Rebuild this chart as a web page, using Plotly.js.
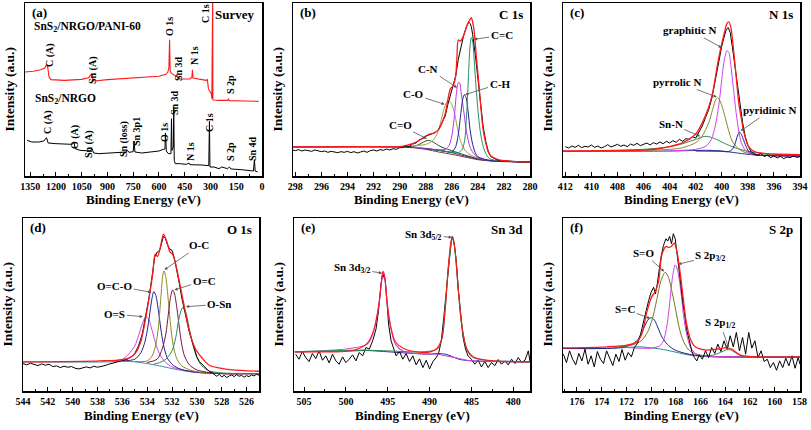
<!DOCTYPE html>
<html><head><meta charset="utf-8">
<script src="https://cdn.plot.ly/plotly-3.0.1.min.js"></script>
<style>html,body{margin:0;padding:0;background:#fff}#chart{width:811px;height:430px}</style>
</head><body><div id="chart"></div>
<script>
// ---------- (a) Survey ----------
const aRedE = [1380,1330,1290,1265,1255,1248,1240,1230,1150,1050,1010,995,990,985,975,900,800,700,600,560,548,542,538,535,530,510,500,497,493,480,420,408,405,402,380,330,325,318,312,305,295,292,290,287,286,282,250,200,195,190,100,20];
const aRedI = [312,314,319,324,334,327,297,289,287,290,295,302,307,287,285,289,292,295,299,305,312,327,409,317,309,302,300,305,297,291,291,297,319,294,292,289,287,289,262,255,247,232,560,560,229,228,227,227,231,226,225,224];
const aBlkE = [1368,1340,1300,1270,1255,1245,1200,1130,1105,1095,1088,1060,1000,990,980,950,900,850,790,783,775,750,745,740,700,650,600,575,565,562,557,545,530,527,524,516,514,511,505,480,440,425,420,350,320,310,306,303,280,250,235,200,190,180,120,80,50,44,40,25];
const aBlkI = [107,102,102,105,115,99,97,95,95,102,82,77,75,82,69,67,69,70,72,77,71,73,105,72,69,72,75,80,81,129,75,67,67,172,77,87,207,47,37,37,35,39,34,33,32,31,164,27,27,22,27,22,27,21,19,17,15,49,15,12];

// ---------- (b) C 1s ----------
const bBgE = [298.2,290,289,288,287,286,285,284,283,282,280];
const bBgI = [87,87,86,82,77,70,60,51,46,44,42];
const bBg2I = [87,87,85,80,72,65,57,49,45,43,42];
const bCOdE = [290,289,288.6,288.3,288,287.8,287.6,287.3,287,286.6,286,285,284,283,280];
const bCOdI = [88,89,93,99,105,107,105,99,91,84,76,63,52,46,42];
const bCOsE = [289,288,287.5,287.2,287,286.8,286.6,286.4,286.2,286,285.8,285.6,285.4,285.2,285,284.6,284,283,281,280];
const bCOsI = [90,95,105,120,140,170,200,220,224,215,190,150,115,92,78,64,54,47,43,42];
const bCNE = [289,288,287,286.5,286.2,286,285.8,285.65,285.5,285.4,285.3,285.1,284.9,284.7,284.5,284.2,284,283.5,283,282,280];
const bCNI = [87,83,79,80,92,120,180,245,280,280,255,200,140,100,78,62,56,50,46,44,42];
const bCHE = [288,287,286.5,286,285.7,285.5,285.3,285.15,285.03,284.9,284.75,284.6,284.4,284.2,284,283.5,283,280];
const bCHI = [82,77,74,72,88,125,190,232,244,235,195,140,95,70,58,50,46,42];
const bCCE = [288,287,286,285.5,285.2,285,284.9,284.8,284.7,284.6,284.5,284.4,284.3,284.2,284,283.8,283.6,283.4,283.2,283,282,280];
const bCCI = [82,77,71,70,80,110,160,230,320,390,415,405,360,300,200,130,90,68,56,50,45,42];
const bFitE = [298.2,292,290,289.5,289,288.5,288,287.7,287.4,287,286.7,286.5,286.3,286.1,285.9,285.7,285.6,285.5,285.35,285.2,285,284.8,284.6,284.5,284.4,284.3,284.2,284.1,284,283.8,283.6,283.4,283.2,283,282.5,282,281,280];
const bFitI = [87,88,88,92,97,107,120,126,128,140,165,187,230,262,270,300,360,408,405,412,432,455,470,475,462,440,400,350,310,220,140,100,72,60,50,46,43,42];
const bRawE = [298.2,298,297.75,297.5,297.25,297,296.75,296.5,296.25,296,295.75,295.5,295.25,295,294.75,294.5,294.25,294,293.75,293.5,293.25,293,292.75,292.5,292.25,292,291.75,291.5,291.25,291,290.75,290.5,290.25,290,289.75,289.5,289.25,289,288.75,288.5,288.25,288,287.75,287.5,287.25,287,286.75,286.5,286.3,286.1,285.9,285.7,285.5,285.3,285.1,284.9,284.8,284.7,284.6,284.5,284.4,284.3,284.2,284.1,284,283.9,283.8,283.6,283.4,283.2,283,282.75,282.5,282.25,282,281.5,281,280.5,280];
const bRawI = [78,76,79,75,78,77,74,78,76,73,75,71,74,72,70,73,71,74,70,73,69,72,75,71,76,78,75,79,77,81,78,82,80,85,86,90,89,96,99,108,112,119,124,127,131,140,160,180,215,245,268,300,350,390,420,445,455,462,458,448,425,400,365,330,290,250,212,150,105,74,58,52,48,46,45,44,43,42,42];

// ---------- (c) N 1s ----------
const cBgE = [412.2,404,401,400,399,398,397,394];
const cBgI = [74,75,77,75,70,65,62,60];
const cSnNE = [410,406,404,403,402,401.5,401.2,400.8,400.3,399.8,399,398,397,396,394];
const cSnNI = [76,80,88,97,110,117,119,116,108,98,85,74,68,63,61];
const cPyrE = [406,404,403,402,401.5,401,400.7,400.45,400.3,400.1,399.8,399.5,399.2,398.8,398.3,397.5,396,394];
const cPyrI = [77,80,85,100,120,160,200,230,235,222,185,140,105,85,72,65,61,60];
const cGraE = [404,402,401.2,400.8,400.5,400.2,400,399.8,399.6,399.45,399.3,399.1,398.9,398.7,398.5,398.2,397.8,397,394];
const cGraI = [76,80,90,110,150,220,290,350,376,370,330,260,190,135,100,78,66,62,60];
const cPydE = [402,400,399.5,399.2,399,398.8,398.65,398.5,398.3,398.1,397.9,397.5,396,394];
const cPydI = [75,74,73,80,95,120,132,125,105,85,72,64,61,60];
const cFitE = [412.2,408,406,405,404,403,402,401.5,401,400.7,400.35,400.1,399.8,399.6,399.45,399.3,399.1,398.9,398.7,398.5,398.3,398,397.7,397.4,397,396,394];
const cFitI = [75,76,78,81,88,100,126,160,207,250,330,380,430,458,462,445,380,300,220,172,130,92,78,72,69,66,64];
const cRawE = [412,411.75,411.5,411.25,411,410.75,410.5,410.25,410,409.75,409.5,409.25,409,408.75,408.5,408.25,408,407.75,407.5,407.25,407,406.75,406.5,406.25,406,405.75,405.5,405.25,405,404.75,404.5,404.25,404,403.75,403.5,403.25,403,402.75,402.5,402.25,402,401.75,401.5,401.25,401,400.75,400.5,400.25,400,399.8,399.65,399.5,399.35,399.2,399,398.8,398.6,398.4,398.2,398,397.75,397.5,397.25,397,396.75,396.5,396.25,396,395.75,395.5,395.25,395,394.75,394.5,394.25,394];
const cRawI = [88,84,90,86,92,85,89,87,93,86,90,84,88,94,87,91,95,89,93,88,96,92,98,91,95,99,93,100,96,102,97,104,99,106,101,110,104,112,110,118,114,130,150,175,200,235,285,345,390,420,440,445,430,390,330,265,205,160,118,92,72,66,62,68,58,63,55,60,54,59,52,57,55,60,56,58];

// ---------- (d) O 1s ----------
const dBgE = [544,537,536,535,534,533,532,531,530,529,528,525];
const dBgI = [87,87,89,87,82,75,67,60,55,53,52,52];
const dOSE = [537,536,535.5,535,534.7,534.4,534.13,533.9,533.6,533.3,533,532.5,532,531,530,528,525];
const dOSI = [90,95,110,135,165,200,222,215,180,140,110,85,72,62,56,52,52];
const dOCOE = [536,535,534.5,534.2,534,533.8,533.6,533.47,533.3,533.1,532.9,532.7,532.4,532,531.5,531,530,528,525];
const dOCOI = [90,95,115,145,180,230,280,297,285,240,185,140,100,80,68,62,56,52,52];
const dOCE = [535,534,533.6,533.3,533.1,532.9,532.75,532.65,532.5,532.3,532.1,531.9,531.6,531.2,530.5,529.5,528,525];
const dOCI = [88,90,105,140,190,280,345,359,340,270,190,135,95,75,62,55,52,52];
const dOdCE = [534,533.2,532.8,532.5,532.3,532.1,531.95,531.8,531.6,531.4,531.2,531,530.6,530,529,528,525];
const dOdCI = [85,95,125,170,230,285,302,290,245,185,135,105,78,63,55,52,52];
const dOSnE = [533.5,533,532.5,532,531.7,531.45,531.15,530.9,530.6,530.3,530,529.6,529,528,525];
const dOSnI = [80,85,95,120,160,215,249,235,185,135,100,75,60,54,52];
const dFitE = [544,537.8,535.95,535.28,534.88,534.48,534.08,533.81,533.55,533.36,533.17,532.96,532.69,532.43,532.16,531.97,531.76,531.49,531.2,530.93,530.67,530.13,529.55,529.01,528.21,527.15,525];
const dFitI = [87,90,94,102,117,152,227,287,352,409,402,427,469,447,415,409,387,342,287,237,187,127,97,77,69,63,59];
const dRawE = [544,543.7,543.4,543.1,542.8,542.5,542.2,541.9,541.6,541.3,541,540.7,540.4,540.1,539.8,539.5,539.2,538.9,538.6,538.3,538,537.7,537.4,537.1,536.8,536.5,536.2,535.9,535.6,535.3,535,534.7,534.4,534.1,533.85,533.6,533.4,533.2,533,532.85,532.7,532.55,532.4,532.2,532,531.8,531.6,531.4,531.2,531,530.8,530.6,530.4,530.2,530,529.8,529.6,529.4,529.2,529,528.8,528.6,528.4,528.2,528,527.8,527.6,527.4,527.2,527,526.8,526.6,526.4,526.2,526,525.8,525.6,525.4,525.2,525];
const dRawI = [82,78,83,79,76,81,77,80,73,75,70,74,71,73,68,66,70,72,69,74,71,73,76,80,83,86,88,90,95,102,112,135,170,230,280,345,400,415,420,440,462,458,440,425,420,395,360,318,275,240,205,175,150,125,102,88,80,72,65,58,55,49,44,50,42,47,40,45,48,43,49,44,47,41,46,43,48,45,50,47];

// ---------- (e) Sn 3d ----------
const eFitE = [506.1,499.05,497.46,496.67,496.07,495.75,495.56,495.36,495.08,494.68,494.09,493.1,491.51,489.92,489.13,488.53,488.13,487.74,487.42,487.22,486.94,486.55,486.15,485.56,484.76,483.17,478];
const eFitI = [117,122,142,182,257,327,357,342,267,197,147,127,117,117,127,157,247,377,449,459,417,297,197,127,102,92,87];
const eMagE = [506.1,497.46,496.67,496.07,495.75,495.56,495.36,495.08,494.68,494.09,493.1,491.5,489.1,487,485.56,478];
const eMagI = [117,140,180,255,325,357,340,265,195,140,118,112,110,100,92,87];
const eGrnE = [506.1,497.5,493.1,490.7,489.13,488.53,488.13,487.74,487.22,486.94,486.55,486.15,485.56,484.76,483.17,478];
const eGrnI = [117,122,118,117,125,155,245,375,459,415,295,195,125,100,92,87];
const eBgE = [506.1,499,497.5,495.5,493.1,489.9,489.1,488.1,487.3,486.5,485,478];
const eBgI = [117,120,121,118,114,110,112,110,103,95,90,87];
const eRawE = [506,505.6,505.2,504.8,504.4,504,503.6,503.2,502.8,502.4,502,501.6,501.2,500.8,500.4,500,499.6,499.2,498.8,498.4,498,497.6,497.2,496.8,496.4,496.1,495.8,495.6,495.45,495.3,495.1,494.9,494.6,494.3,494,493.6,493.2,492.8,492.4,492,491.6,491.2,490.8,490.4,490,489.6,489.2,488.9,488.6,488.3,488,487.7,487.45,487.3,487.15,487,486.8,486.55,486.3,486,485.7,485.4,485,484.6,484.2,483.8,483.4,483,482.6,482.2,481.8,481.4,481,480.6,480.2,479.8,479.4,479,478.6,478.2,478];
const eRawI = [110,95,118,100,88,112,97,120,92,105,84,110,90,80,102,85,95,108,90,115,105,130,125,150,185,240,320,352,340,330,270,200,150,125,105,118,95,112,88,105,78,96,70,92,66,88,100,115,150,220,300,380,440,462,450,430,385,300,225,160,125,105,95,80,92,72,88,70,85,76,94,80,90,78,95,82,100,85,92,120,88];

// ---------- (f) S 2p ----------
const fFitE = [177.13,173.57,171.96,171.15,170.74,170.34,169.94,169.67,169.4,169.13,168.78,168.59,168.37,168.13,167.91,167.7,167.43,167.16,166.84,166.43,165.49,164.68,164.01,163.47,162.79,161.44,157.94];
const fFitI = [129,132,137,147,172,237,282,297,327,407,432,429,432,442,417,367,287,207,157,132,122,125,129,125,107,102,102];
const fBgE = [177.13,174,172,171,170.5,170,169,168,167,166,165,157.94];
const fBgI = [127,127,130,132,131,129,124,116,108,104,102,101];
const fSCE = [177.13,173,172,171.2,170.8,170.5,170.2,169.94,169.7,169.4,169.1,168.7,168.2,167.5,166.5,165,157.94];
const fSCI = [127,128,133,148,170,195,215,219,210,185,160,140,125,115,107,103,102];
const fSOE = [173,171.5,170.8,170.3,169.9,169.5,169.2,168.86,168.6,168.3,168,167.7,167.4,167,166.5,165.5,164,157.94];
const fSOI = [130,138,150,175,215,280,330,355,340,295,240,185,150,125,112,104,102,102];
const fS32E = [172,170,169.3,169,168.7,168.45,168.25,168.05,167.85,167.6,167.35,167.1,166.8,166.4,165.8,165,157.94];
const fS32I = [130,128,135,150,200,280,345,377,360,300,220,165,130,112,105,103,102];
const fS12E = [166,165,164.4,163.9,163.6,163.2,162.7,162,157.94];
const fS12I = [104,107,115,123,123,115,106,102,101];
const fRawE = [177.1,176.85,176.6,176.35,176.1,175.85,175.6,175.35,175.1,174.85,174.6,174.35,174.1,173.85,173.6,173.35,173.1,172.85,172.6,172.35,172.1,171.85,171.6,171.35,171.1,170.85,170.6,170.4,170.2,170,169.8,169.65,169.5,169.35,169.2,169,168.8,168.65,168.5,168.35,168.2,168.05,167.9,167.75,167.6,167.45,167.3,167.1,166.9,166.7,166.5,166.3,166.1,165.85,165.6,165.35,165.1,164.85,164.6,164.35,164.1,163.85,163.6,163.35,163.1,162.85,162.6,162.35,162.1,161.85,161.6,161.35,161.1,160.85,160.6,160.35,160.1,159.85,159.6,159.35,159.1,158.85,158.6,158.35,158.1,157.95];
const fRawI = [110,85,120,95,78,112,90,125,80,105,72,118,95,82,120,98,76,110,88,124,92,115,102,130,142,170,205,240,270,295,310,290,320,370,400,435,455,448,462,440,470,455,415,360,320,270,225,180,150,118,100,90,108,95,120,100,130,112,140,118,150,125,165,132,175,120,160,110,175,128,150,100,120,88,95,70,85,62,90,70,98,75,105,68,100,80];

// ---------- tick / label text ----------
const xTitle = 'Binding Energy (eV)';
const yTitle = 'Intensity (a.u.)';
const panelTags = ['(a)','(b)','(c)','(d)','(e)','(f)'];
const panelNames = ['Survey','C 1s','N 1s','O 1s','Sn 3d','S 2p'];

const F = '"Liberation Serif", "Times New Roman", Times, serif';
const W = 811, H = 430;
const px = v => v / W, py = v => 1 - v / H;

function ln(x, y, color, k, width, shape) {
  return {type:'scatter', mode:'lines', x:x, y:y,
    xaxis: k===1?'x':'x'+k, yaxis: k===1?'y':'y'+k,
    line:{color:color, width:width||1, shape:shape||'linear', smoothing:0.8},
    hoverinfo:'skip', showlegend:false, cliponaxis:true};
}

const traces = [
  ln(aBlkE, aBlkI, '#000000', 1, 1),
  ln(aRedE, aRedI, '#ff1a1a', 1, 1.1),

  ln(bBgE, bBg2I, '#8a3030', 2, 1, 'spline'),
  ln(bBgE, bBgI, '#30308a', 2, 1, 'spline'),
  ln(bCOdE, bCOdI, '#2e4a2e', 2, 1, 'spline'),
  ln(bCOsE, bCOsI, '#a0a040', 2, 1, 'spline'),
  ln(bCNE, bCNI, '#c030f0', 2, 1, 'spline'),
  ln(bCHE, bCHI, '#202090', 2, 1, 'spline'),
  ln(bCCE, bCCI, '#20906a', 2, 1, 'spline'),
  ln(bRawE, bRawI, '#000000', 2, 1),
  ln(bFitE, bFitI, '#ff1a1a', 2, 1.3, 'spline'),

  ln(cBgE, cBgI, '#30308a', 3, 1, 'spline'),
  ln(cSnNE, cSnNI, '#2e8b57', 3, 1, 'spline'),
  ln(cPyrE, cPyrI, '#8a8a30', 3, 1, 'spline'),
  ln(cGraE, cGraI, '#d040f0', 3, 1, 'spline'),
  ln(cPydE, cPydI, '#202090', 3, 1, 'spline'),
  ln(cRawE, cRawI, '#000000', 3, 1),
  ln(cFitE, cFitI, '#ff1a1a', 3, 1.3, 'spline'),

  ln(dBgE, dBgI, '#4a8a9a', 4, 1, 'spline'),
  ln(dOSE, dOSI, '#d040e0', 4, 1, 'spline'),
  ln(dOCOE, dOCOI, '#202090', 4, 1, 'spline'),
  ln(dOCE, dOCI, '#8a8a20', 4, 1, 'spline'),
  ln(dOdCE, dOdCI, '#801040', 4, 1, 'spline'),
  ln(dOSnE, dOSnI, '#2e8b57', 4, 1, 'spline'),
  ln(dRawE, dRawI, '#000000', 4, 1),
  ln(dFitE, dFitI, '#ff1a1a', 4, 1.3, 'spline'),

  ln(eBgE, eBgI, '#30308a', 5, 1, 'spline'),
  ln(eRawE, eRawI, '#000000', 5, 1),
  ln(eMagE, eMagI, '#d040e0', 5, 1.1, 'spline'),
  ln(eGrnE, eGrnI, '#2e8b57', 5, 1.1, 'spline'),
  ln(eFitE, eFitI, '#ff1a1a', 5, 1.1, 'spline'),

  ln(fBgE, fBgI, '#2e8b8b', 6, 1, 'spline'),
  ln(fSCE, fSCI, '#202090', 6, 1, 'spline'),
  ln(fSOE, fSOI, '#6a7a20', 6, 1, 'spline'),
  ln(fS32E, fS32I, '#d040e0', 6, 1, 'spline'),
  ln(fS12E, fS12I, '#2e8b57', 6, 1, 'spline'),
  ln(fRawE, fRawI, '#000000', 6, 1),
  ln(fFitE, fFitI, '#ff1a1a', 6, 1.3, 'spline')
];

// panel boxes in pixels [left, right, top, bottom]
const boxes = [[25,262,3,176],[293,530,3,176],[563,800,3,176],[23,259,218,391],[294,530,218,391],[563,800,218,391]];
const xr = [[1380,0],[298.18,280.0],[412.18,394.0],[544,525],[506.2,478],[177.13,157.95]];
const dt = [150,2,2,2,5,2];
const mdt = [75,1,1,1,2.5,1];
const yr = [[0,519],[0,519],[0,519],[0,517],[0,517],[0,517]];

const layout = {width:W, height:H, margin:{l:0,r:0,t:0,b:0}, paper_bgcolor:'#fff', plot_bgcolor:'#fff',
  showlegend:false, annotations:[]};

for (let i = 0; i < 6; i++) {
  const k = i + 1, b = boxes[i];
  const xn = k===1 ? 'xaxis' : 'xaxis'+k, yn = k===1 ? 'yaxis' : 'yaxis'+k;
  layout[xn] = {domain:[px(b[0]), px(b[1])], range:xr[i], anchor: k===1?'y':'y'+k,
    tickmode:'linear', tick0:0, dtick:dt[i], ticks:'inside', ticklen:4, tickwidth:1, tickcolor:'#000',
    minor:{ticks:'inside', ticklen:2, tickwidth:1, tickcolor:'#000', tick0:0, dtick:mdt[i]},
    showline:true, linecolor:'#000', linewidth:1.5, mirror:true, showgrid:false, zeroline:false,
    tickfont:{family:F, size:10, color:'#000', weight:'bold'}, fixedrange:true};
  layout[yn] = {domain:[py(b[3]), py(b[2])], range:yr[i], anchor: k===1?'x':'x'+k,
    showline:true, linecolor:'#000', linewidth:1.5, mirror:true, ticks:'', showticklabels:false,
    showgrid:false, zeroline:false, fixedrange:true};
  // axis titles
  layout.annotations.push({xref:'paper', yref:'paper', x:px((b[0]+b[1])/2), y:py(b[3]+24), text:xTitle,
    showarrow:false, xanchor:'center', yanchor:'middle', font:{family:F, size:13, color:'#000', weight:'bold'}});
  layout.annotations.push({xref:'paper', yref:'paper', x:px(b[0]-16), y:py((b[2]+b[3])/2), text:yTitle, textangle:-90,
    showarrow:false, xanchor:'center', yanchor:'middle', font:{family:F, size:13.5, color:'#000', weight:'bold'}});
  // panel tag and name
  layout.annotations.push({xref:'paper', yref:'paper', x:px(b[0]+5), y:py(b[2]+10), text:panelTags[i],
    showarrow:false, xanchor:'left', yanchor:'middle', font:{family:F, size:13, color:'#000', weight:'bold'}});
  layout.annotations.push({xref:'paper', yref:'paper', x:px(b[1]-5), y:py(b[2]+11), text:panelNames[i],
    showarrow:false, xanchor:'right', yanchor:'middle', font:{family:F, size:13, color:'#000', weight:'bold'}});
}

// survey labels (paper pixel positions)
const sv = [
  ['SnS<sub>2</sub>/NRGO/PANI-60', 32, 27, 0, 'left', 11.5],
  ['SnS<sub>2</sub>/NRGO', 33, 99, 0, 'left', 11.5],
  ['C (A)', 50, 55, -90], ['Sn (A)', 93, 70, -90], ['O 1s', 170, 27, -90], ['Sn 3d', 178, 69, -90],
  ['N 1s', 194, 56, -90], ['C 1s', 205, 14, -90], ['S 2p', 230, 85, -90],
  ['C (A)', 48, 122, -90], ['O (A)', 75, 137, -90], ['Sn (A)', 89, 144, -90], ['Sn (loss)', 124, 139, -90],
  ['Sn 3p1', 136, 132, -90], ['O 1s', 164, 133, -90], ['Sn 3d', 174, 103, -90], ['N 1s', 190, 152, -90],
  ['C 1s', 210, 123, -90], ['S 2p', 230, 152, -90], ['Sn 4d', 252, 149, -90]
];
sv.forEach(s => layout.annotations.push({xref:'paper', yref:'paper', x:px(s[1]), y:py(s[2]), text:s[0],
  textangle:s[3], showarrow:false, xanchor:s[4]||'center', yanchor:'middle',
  font:{family:F, size:s[5]||10, color:'#000', weight:'bold'}}));

// peak labels with arrows: [panel, text, headX, headY, textX, textY]
const pk = [
  [2,'C=C',284.29,410,282.17,422],[2,'C-N',285.6,265,287.79,322],[2,'C-O',286.55,215,288.94,245],
  [2,'C-H',284.98,244,282.3,277],[2,'C=O',287.92,112,289.96,152],
  [3,'graphitic N',400.0,385,402.43,437],[3,'pyrrolic N',400.38,237,403.45,282],
  [3,'pyridinic N',398.55,135,396.3,197],[3,'Sn-N',401.66,119,403.91,157],
  [4,'O-C',532.61,362,529.81,435],[4,'O=C-O',533.68,295,536.61,315],[4,'O=C',531.81,302,529.41,330],
  [4,'O-Sn',530.88,252,528.21,259],[4,'O=S',534.35,222,536.61,230],
  [5,'Sn 3d<sub>3/2</sub>',495.67,352,499.25,367],[5,'Sn 3d<sub>5/2</sub>',487.34,459,490.7,467],
  [6,'S=O',168.94,357,170.6,412],[6,'S 2p<sub>3/2</sub>',167.8,379,165.2,402],
  [6,'S=C',170.07,217,172.1,244],[6,'S 2p<sub>1/2</sub>',163.73,129,164.4,202]
];
pk.forEach(p => {
  const xa = p[0]===1?'x':'x'+p[0], ya = p[0]===1?'y':'y'+p[0];
  layout.annotations.push({xref:xa, yref:ya, axref:xa, ayref:ya, x:p[2], y:p[3], ax:p[4], ay:p[5],
    text:p[1], showarrow:true, arrowhead:2, arrowsize:0.8, arrowwidth:0.8, arrowcolor:'#555', standoff:0,
    font:{family:F, size:11, color:'#000', weight:'bold'}});
});

Plotly.newPlot('chart', traces, layout, {staticPlot:true, displayModeBar:false});
</script></body></html>
